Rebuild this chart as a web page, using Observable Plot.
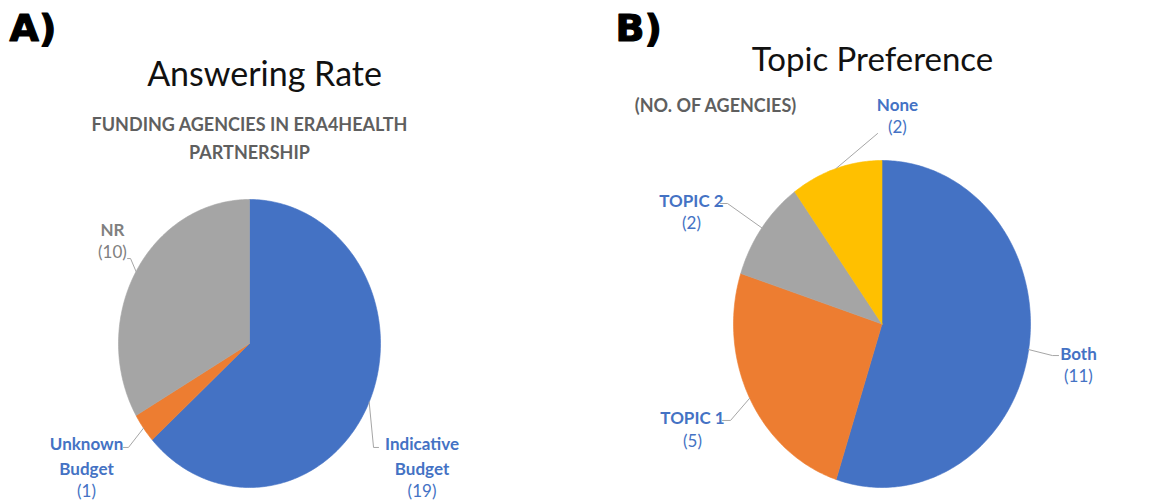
<!DOCTYPE html>
<html><head><meta charset="utf-8">
<script src="https://cdn.jsdelivr.net/npm/d3@7"></script>
<script src="https://cdn.jsdelivr.net/npm/@observablehq/plot@0.6"></script>
<style>
body{margin:0;background:#fff;}
#wrap{display:flex;width:1159px;height:504px;overflow:hidden;}
</style></head><body><div id="wrap"></div>
<script>
// ---- Panel A: Answering Rate ----
const categoriesA = ["Indicative Budget", "Unknown Budget", "NR"];
const valuesA = [19, 1, 10];
const labelNamesA = ["Indicative\nBudget", "Unknown\nBudget", "NR"];
const colorsA = ["#4472C4", "#ED7D31", "#A5A5A5"];
const labelColorsA = ["#4472C4", "#4472C4", "#808080"];

// ---- Panel B: Topic Preference ----
const categoriesB = ["Both", "TOPIC 1", "TOPIC 2", "None"];
const valuesB = [11, 5, 2, 2];
const labelNamesB = ["Both", "TOPIC 1", "TOPIC 2", "None"];
const colorsB = ["#4472C4", "#ED7D31", "#A5A5A5", "#FFC000"];
const labelColorsB = ["#4472C4", "#4472C4", "#4472C4", "#4472C4"];

// ---- layout (pixels / normalized pie units) ----
const layoutA = {
  panel: "A)", title: "Answering Rate", subtitle: "FUNDING AGENCIES IN ERA4HEALTH\nPARTNERSHIP",
  width: 580, cx: 249, cy: 343, rx: 131, ry: 144, titleSize: 34,
  titleDx: -26, titleDy: 75, subDx: -41, subDy: 136, panelDx: 9,
  labelAt: [[1.317, -0.948], [-1.244, -0.948], [-1.046, 0.715]],
  leader: [[[0.947, -0.722], [0.985, -0.722]], [[-0.924, -0.722], [-0.962, -0.722]], [[-0.908, 0.59], [-0.931, 0.59]]]
};
const layoutB = {
  panel: "B)", title: "Topic Preference", subtitle: "(NO. OF AGENCIES)",
  width: 579, cx: 301.5, cy: 323.5, rx: 148.5, ry: 163.5, titleSize: 33,
  titleDx: 2.5, titleDy: 60, subDx: -154.5, subDy: 103, panelDx: 35,
  labelAt: [[1.323, -0.251], [-1.276, -0.645], [-1.283, 0.688], [0.104, 1.272]],
  leader: [[[1.148, -0.193], [1.189, -0.193]], [[-1.020, -0.590], [-1.074, -0.590]], [[-1.040, 0.737], [-1.088, 0.737]], [[-0.03, 1.165]]]
};

const FONT = "Lato, 'Open Sans', sans-serif";

function pieChart(cats, vals, names, colors, labelColors, L) {
  const arcs = d3.pie().sort(null).value(d => d)(vals);
  const pts = [], leaders = [], labels = [];
  arcs.forEach((a, i) => {
    const span = a.endAngle - a.startAngle;
    const n = Math.max(2, Math.ceil(span / (Math.PI / 180)));
    pts.push({cat: cats[i], color: colors[i], x: 0, y: 0});
    for (let k = 0; k <= n; k++) {
      const t = a.startAngle + span * k / n;
      pts.push({cat: cats[i], color: colors[i], x: Math.sin(t), y: Math.cos(t)});
    }
    pts.push({cat: cats[i], color: colors[i], x: 0, y: 0});
    const m = (a.startAngle + a.endAngle) / 2;
    leaders.push({cat: cats[i], x: Math.sin(m), y: Math.cos(m)});
    L.leader[i].forEach(p => leaders.push({cat: cats[i], x: p[0], y: p[1]}));
    labels.push({name: names[i], val: `(${vals[i]})`, color: labelColors[i], x: L.labelAt[i][0], y: L.labelAt[i][1]});
  });
  return Plot.plot({
    width: L.width, height: 504,
    margin: 0,
    x: {domain: [-1, 1], range: [L.cx - L.rx, L.cx + L.rx], axis: null},
    y: {domain: [-1, 1], range: [L.cy + L.ry, L.cy - L.ry], axis: null},
    color: {type: "identity"},
    style: {fontFamily: FONT, background: "white", overflow: "visible"},
    marks: [
      Plot.line(pts, {x: "x", y: "y", z: "cat", fill: "color", stroke: "color", strokeWidth: 0.6}),
      Plot.line(leaders, {x: "x", y: "y", z: "cat", stroke: "#A6A6A6", strokeWidth: 1}),
      Plot.text(labels, {x: "x", y: "y", text: "name", fill: "color", fontWeight: "bold", fontSize: 17, lineHeight: 1.47, lineAnchor: "bottom", dy: -5, fontFamily: FONT}),
      Plot.text(labels, {x: "x", y: "y", text: "val", fill: "color", fontSize: 17, lineAnchor: "top", dy: 5, fontFamily: FONT}),
      Plot.text([L.panel], {frameAnchor: "top-left", lineAnchor: "middle", dx: L.panelDx, dy: 28, text: d => d, fontSize: 38, fontWeight: "bold", fill: "black", stroke: "black", strokeWidth: 1.2, fontFamily: "'DejaVu Sans', sans-serif", textAnchor: "start"}),
      Plot.text([L.title], {frameAnchor: "top", lineAnchor: "middle", dx: L.titleDx, dy: L.titleDy, text: d => d, fontSize: L.titleSize, fill: "#111", fontFamily: FONT}),
      Plot.text([L.subtitle], {frameAnchor: "top", lineAnchor: "middle", dx: L.subDx, dy: L.subDy, text: d => d, fontSize: 18, lineHeight: 1.55, fontWeight: "bold", fill: "#5f5f5f", fontFamily: FONT})
    ]
  });
}

const wrap = document.getElementById("wrap");
wrap.appendChild(pieChart(categoriesA, valuesA, labelNamesA, colorsA, labelColorsA, layoutA));
wrap.appendChild(pieChart(categoriesB, valuesB, labelNamesB, colorsB, labelColorsB, layoutB));
</script>
</body></html>
